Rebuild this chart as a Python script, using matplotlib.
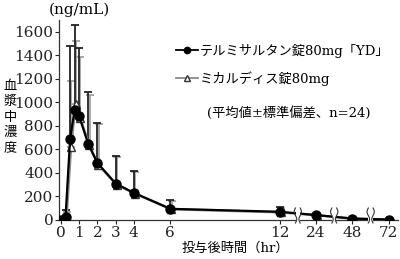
import numpy as np
import matplotlib.pyplot as plt
from matplotlib.patches import Rectangle

plt.rcParams['font.family'] = ['DejaVu Serif', 'Noto Sans CJK JP']
plt.rcParams['axes.unicode_minus'] = False

# 採血時間 (hr)
hours = [0, 0.25, 0.5, 0.75, 1, 1.5, 2, 3, 4, 6, 12, 24, 48, 72]
# テルミサルタン錠80mg「YD」 平均値 / 標準偏差
test_mean = [0, 28, 692, 937, 881, 644, 485, 310, 231, 95, 70, 42, 12, 4]
test_sd = [0, 55, 790, 723, 582, 443, 339, 235, 187, 72, 40, 10, 4, 2]
# ミカルディス錠80mg
ref_mean = [0, 25, 620, 985, 870, 635, 470, 300, 225, 92, 65, 40, 11, 4]
ref_sd = [0, 45, 565, 535, 512, 430, 345, 238, 185, 72, 40, 8, 3, 2]

tick_hours = [0, 1, 2, 3, 4, 6, 12, 24, 48, 72]
tick_labels = ['0', '1', '2', '3', '4', '6', '12', '24', '48', '72']


def hr2x(t):
    # 12hr以降は省略軸
    return np.interp(t, [0, 12, 24, 48, 72], [0, 12, 14, 16, 18])


x = hr2x(hours)

fig = plt.figure(figsize=(4, 2.59), dpi=100)
ax = fig.add_axes([0.1475, 0.1506, 0.8475, 0.772])

ax.errorbar(x + 0.07, ref_mean, yerr=[np.zeros(len(ref_sd)), ref_sd], fmt='none',
            ecolor='#999999', elinewidth=1.2, capsize=3, capthick=1.2, zorder=2)
ax.errorbar(x, test_mean, yerr=[np.zeros(len(test_sd)), test_sd], fmt='none',
            ecolor='#222222', elinewidth=1.3, capsize=3, capthick=1.3, zorder=3)

ref_line, = ax.plot(x + 0.05, ref_mean, color='#8a8a8a', lw=1.8, marker='^',
                    ms=6, mfc='white', mec='#333333', mew=1, zorder=4)
test_line, = ax.plot(x, test_mean, color='black', lw=1.6, marker='o',
                     ms=6.5, mfc='black', mec='black', zorder=5)

ax.set_xlim(-0.11, 18.5)
ax.set_ylim(0, 1700)
ax.set_yticks(range(0, 1601, 200))
ax.set_xticks(hr2x(tick_hours))
ax.set_xticklabels(tick_labels)
ax.tick_params(labelsize=11, length=3, width=0.8, pad=1, colors='#222222')
for s in ['top', 'right']:
    ax.spines[s].set_visible(False)
for s in ['left', 'bottom']:
    ax.spines[s].set_linewidth(0.9)
    ax.spines[s].set_color('#333333')

# 省略記号
trans = ax.get_xaxis_transform()
for b in [13, 15, 17]:
    ax.add_patch(Rectangle((b - 0.12, -0.02), 0.24, 0.085, transform=trans,
                           facecolor='white', edgecolor='none', clip_on=False, zorder=6))
    s = np.linspace(0, 1, 20)
    yy = -0.015 + 0.075 * s
    for dx in [-0.13, 0.13]:
        ax.plot(b + dx + 0.07 * np.sin(np.pi * 2 * s) * np.sign(dx) * -1, yy,
                transform=trans, color='#333333', lw=0.8, clip_on=False, zorder=7)

leg = ax.legend([test_line, ref_line],
                ['テルミサルタン錠80mg「YD」', 'ミカルディス錠80mg'],
                loc='upper left', bbox_to_anchor=(176 / 400, 1 - 44 / 259),
                bbox_transform=fig.transFigure, frameon=False, fontsize=9.5,
                handlelength=1.7, handletextpad=0.1, labelspacing=1.0,
                borderaxespad=0, borderpad=0, markerscale=0.7)
for h in leg.legend_handles:
    h.set_linewidth(1.3)

fig.text(207 / 400, 1 - 113 / 259, '(平均値±標準偏差、n=24)', fontsize=9.5,
         va='center', ha='left')
fig.text(79 / 400, 1 - 10 / 259, '(ng/mL)', fontsize=11, ha='center', va='center')
fig.text(10 / 400, 1 - 117 / 259, '\n'.join('血漿中濃度'), fontsize=9.5,
         ha='center', va='center', linespacing=1.25)
fig.text(235 / 400, 1 - 248 / 259, '投与後時間（hr）', fontsize=9.5,
         ha='center', va='center')

fig.savefig('out.png', dpi=100)
